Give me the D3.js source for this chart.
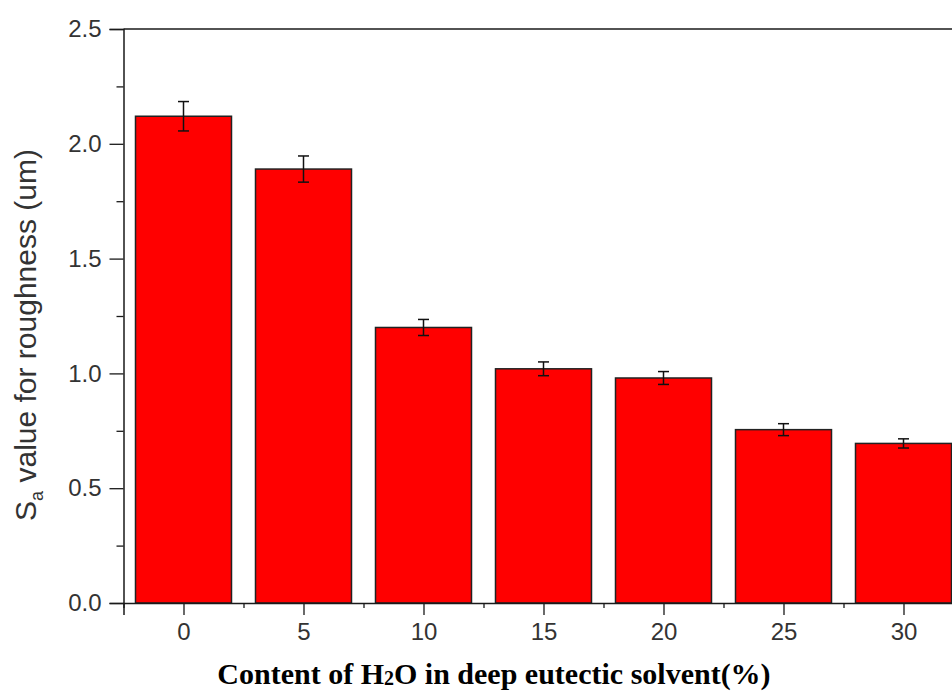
<!DOCTYPE html>
<html>
<head>
<meta charset="utf-8">
<script src="https://cdn.jsdelivr.net/npm/d3@7"></script>
<style>
  html, body { margin: 0; padding: 0; background: #fff; }
  svg { display: block; }
</style>
</head>
<body>
<svg id="chart" width="952" height="691"></svg>
<script>
// H2O content in the deep eutectic solvent (%)
const categories = [0, 5, 10, 15, 20, 25, 30];
// Sa roughness values (um) and their error half-widths
const saValues = [2.12, 1.89, 1.20, 1.02, 0.98, 0.755, 0.695];
const saErrors = [0.064, 0.057, 0.035, 0.030, 0.028, 0.026, 0.020];
// axis ticks
const yMajorTicks = [0, 0.5, 1.0, 1.5, 2.0, 2.5];
const yMinorTicks = [0.25, 0.75, 1.25, 1.75, 2.25];
const xMajorTicks = [0, 5, 10, 15, 20, 25, 30];
const xMinorTicks = [-2.5, 2.5, 7.5, 12.5, 17.5, 22.5, 27.5, 32.5];

const svg = d3.select("#chart");

const x = d3.scaleLinear().domain([-2.5, 32.5]).range([123.5, 963.5]);
const y = d3.scaleLinear().domain([0, 2.5]).range([603, 29]);
const barHalf = 2;

const axisColor = "#1a1a1a";
const tickTextColor = "#333";

// bars
const data = categories.map((c, i) => ({ c, v: saValues[i], e: saErrors[i] }));

svg.append("g").selectAll("rect")
  .data(data)
  .join("rect")
  .attr("x", d => x(d.c - barHalf))
  .attr("y", d => y(d.v))
  .attr("width", d => x(d.c + barHalf) - x(d.c - barHalf))
  .attr("height", d => y(0) - y(d.v))
  .attr("fill", "#ff0000")
  .attr("stroke", "#222")
  .attr("stroke-width", 1.5);

// error bars
const eb = svg.append("g").attr("stroke", "#111").attr("stroke-width", 1.5);
const capHalf = 5.5;
data.forEach(d => {
  const cx = x(d.c);
  eb.append("line").attr("x1", cx).attr("x2", cx)
    .attr("y1", y(d.v + d.e)).attr("y2", y(d.v - d.e));
  eb.append("line").attr("x1", cx - capHalf).attr("x2", cx + capHalf)
    .attr("y1", y(d.v + d.e)).attr("y2", y(d.v + d.e));
  eb.append("line").attr("x1", cx - capHalf).attr("x2", cx + capHalf)
    .attr("y1", y(d.v - d.e)).attr("y2", y(d.v - d.e));
});

// x axis: major ticks with labels, then minor ticks
const xAxis = svg.append("g")
  .attr("transform", `translate(0,${y(0)})`)
  .call(d3.axisBottom(x).tickValues(xMajorTicks).tickSize(12).tickPadding(8).tickFormat(d3.format("d")));
svg.append("g")
  .attr("transform", `translate(0,${y(0)})`)
  .call(d3.axisBottom(x).tickValues(xMinorTicks).tickSize(5).tickFormat(""))
  .call(g => g.select(".domain").remove());

// y axis
const yAxis = svg.append("g")
  .attr("transform", `translate(${x(-2.5)},0)`)
  .call(d3.axisLeft(y).tickValues(yMajorTicks).tickSize(14).tickPadding(8).tickFormat(d3.format(".1f")));
svg.append("g")
  .attr("transform", `translate(${x(-2.5)},0)`)
  .call(d3.axisLeft(y).tickValues(yMinorTicks).tickSize(7).tickFormat(""))
  .call(g => g.select(".domain").remove());

// frame: top and right edges
svg.append("line")
  .attr("x1", x(-2.5)).attr("x2", x(32.5))
  .attr("y1", y(2.5)).attr("y2", y(2.5))
  .attr("stroke", axisColor).attr("stroke-width", 1.5);
svg.append("line")
  .attr("x1", x(32.5)).attr("x2", x(32.5))
  .attr("y1", y(2.5)).attr("y2", y(0))
  .attr("stroke", axisColor).attr("stroke-width", 1.5);

svg.selectAll(".domain").attr("stroke", axisColor).attr("stroke-width", 1.5);
svg.selectAll(".tick line").attr("stroke", axisColor).attr("stroke-width", 1.3);
svg.selectAll(".tick text")
  .attr("fill", tickTextColor)
  .style("font-family", "'Liberation Sans', Arial, sans-serif")
  .style("font-size", "24px");

// y axis title
const yTitle = svg.append("text")
  .attr("transform", `translate(36,335) rotate(-90)`)
  .attr("text-anchor", "middle")
  .attr("fill", tickTextColor)
  .style("font-family", "'Liberation Sans', Arial, sans-serif")
  .style("font-size", "30px");
yTitle.append("tspan").text("S");
yTitle.append("tspan").attr("dy", 7).style("font-size", "18px").text("a");
yTitle.append("tspan").attr("dy", -7).text(" value for roughness (um)");

// x axis title
const xTitle = svg.append("text")
  .attr("x", 494)
  .attr("y", 684)
  .attr("text-anchor", "middle")
  .attr("fill", "#000")
  .style("font-family", "'Liberation Serif', 'Times New Roman', serif")
  .style("font-weight", "bold")
  .style("font-size", "30px");
xTitle.append("tspan").text("Content of H");
xTitle.append("tspan").attr("dy", 1).style("font-size", "20px").text("2");
xTitle.append("tspan").attr("dy", -1).text("O in deep eutectic solvent(%)");
</script>
</body>
</html>
